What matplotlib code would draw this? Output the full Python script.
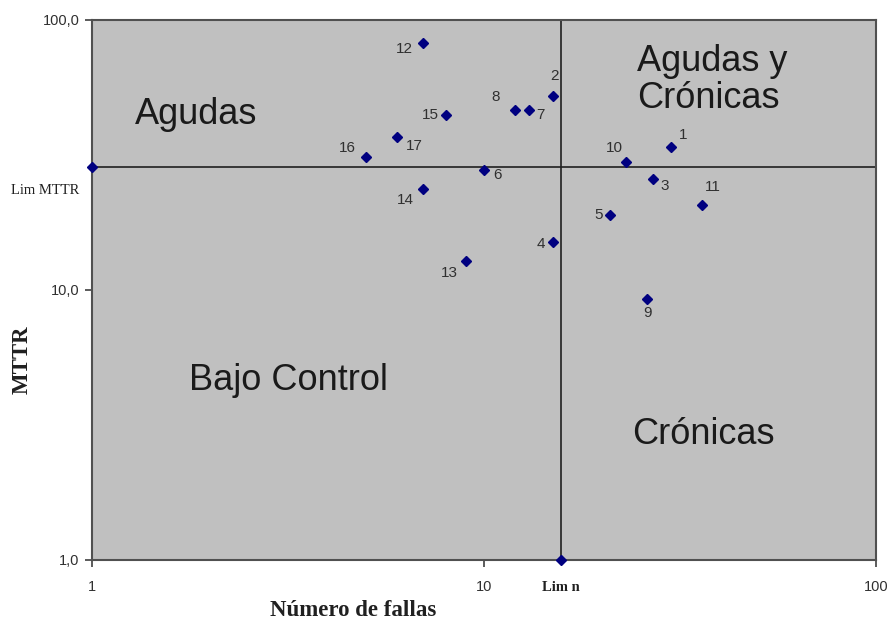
import matplotlib
matplotlib.use("Agg")
import matplotlib.pyplot as plt
from matplotlib.ticker import FixedLocator, FixedFormatter, NullLocator

# Data
ids = ["1", "2", "3", "4", "5", "6", "7", "8", "9", "10", "11", "12", "13", "14", "15", "16", "17"]
fallas = [30, 15, 27, 15, 21, 10, 13, 12, 26, 23, 36, 7, 9, 7, 8, 5, 6]
mttr = [33.7, 52.1, 25.6, 15.0, 18.8, 27.7, 46.2, 46.2, 9.2, 29.7, 20.6, 82.0, 12.7, 23.5, 44.3, 31.0, 36.6]
lim_mttr = 28.5
lim_n = 15.7
x_ticks = [1, 10, 100]
x_ticklabels = ["1", "10", "100"]
y_ticks = [1, 10, 100]
y_ticklabels = ["1,0", "10,0", "100,0"]
quadrants = ["Agudas", "Agudas y\nCrónicas", "Bajo Control", "Crónicas"]

# label offsets in pixels (dx, dy) relative to marker
offsets = [(12, 12), (1, 20), (12, -7), (-12, -2), (-12, 0), (13, -5), (12, -5), (-19, 13),
           (1, -14), (-11, 14), (11, 18), (-19, -6), (-17, -12), (-18, -11), (-16, 0), (-19, 9), (17, -9)]

W, H = 890, 621
fig = plt.figure(figsize=(W / 100, H / 100), dpi=100)
fig.patch.set_facecolor("white")
ax = fig.add_axes([92 / W, 1 - 559.5 / H, (876 - 92) / W, (559.5 - 19.5) / H])
ax.set_facecolor("#C0C0C0")
ax.set_xscale("log")
ax.set_yscale("log")
ax.set_xlim(1, 100)
ax.set_ylim(1, 100)

navy = "#000080"
# limit lines
ax.plot([1, 100], [lim_mttr, lim_mttr], color="#202020", lw=1.2, zorder=2, clip_on=False)
ax.plot([lim_n, lim_n], [1, 100], color="#202020", lw=1.2, zorder=2, clip_on=False)
ax.plot([1], [lim_mttr], marker="D", ms=5, color=navy, ls="none", clip_on=False, zorder=5)
ax.plot([lim_n], [1], marker="D", ms=5, color=navy, ls="none", clip_on=False, zorder=5)

ax.plot(fallas, mttr, marker="D", ms=5, color=navy, ls="none", zorder=4)
for lab, xv, yv, (dx, dy) in zip(ids, fallas, mttr, offsets):
    ax.annotate(lab, (xv, yv), xytext=(dx, dy), textcoords="offset pixels",
                ha="center", va="center", fontsize=11, color="#303030",
                family="Liberation Sans")

# Limit labels
ax.annotate("Lim MTTR", (1, lim_mttr), xytext=(-47, -24), textcoords="offset pixels",
            ha="center", va="center", fontsize=10.5, family="Liberation Serif",
            color="#202020", annotation_clip=False,
            bbox=dict(boxstyle="square,pad=0.1", fc="white", ec="none"))
ax.annotate("Lim n", (lim_n, 1), xytext=(0, -28), textcoords="offset pixels",
            ha="center", va="center", fontsize=10.5, family="Liberation Serif",
            fontweight="bold", color="#202020", annotation_clip=False)

# Quadrant labels
qfont = dict(fontsize=26, family="Liberation Sans", color="#1a1a1a")
fig.text(196 / W, 1 - 115 / H, quadrants[0], ha="center", va="center", **qfont)
fig.text(637 / W, 1 - 80 / H, quadrants[1], ha="left", va="center", linespacing=1.1, **qfont)
fig.text(288 / W, 1 - 380 / H, quadrants[2], ha="center", va="center", **qfont)
fig.text(703 / W, 1 - 435 / H, quadrants[3], ha="center", va="center", **qfont)

# Ticks
ax.xaxis.set_major_locator(FixedLocator(x_ticks))
ax.xaxis.set_major_formatter(FixedFormatter(x_ticklabels))
ax.yaxis.set_major_locator(FixedLocator(y_ticks))
ax.yaxis.set_major_formatter(FixedFormatter(y_ticklabels))
ax.xaxis.set_minor_locator(NullLocator())
ax.yaxis.set_minor_locator(NullLocator())
ax.tick_params(axis="both", direction="out", length=5, width=1.2, color="#404040",
               labelsize=10.5, labelcolor="#303030")
ax.tick_params(axis="x", pad=10)
ax.tick_params(axis="y", pad=4)
for t in ax.get_xticklabels() + ax.get_yticklabels():
    t.set_family("Liberation Sans")

for s in ax.spines.values():
    s.set_color("#505050")
    s.set_linewidth(1.5)

fig.text(353 / W, 1 - 611 / H, "Número de fallas", ha="center", va="center",
         fontsize=16.5, family="Liberation Serif", fontweight="bold", color="#202020")
fig.text(22 / W, 1 - 360 / H, "MTTR", ha="center", va="center", rotation=90,
         fontsize=16.5, family="Liberation Serif", fontweight="bold", color="#202020")

fig.savefig("out.png", dpi=100)
